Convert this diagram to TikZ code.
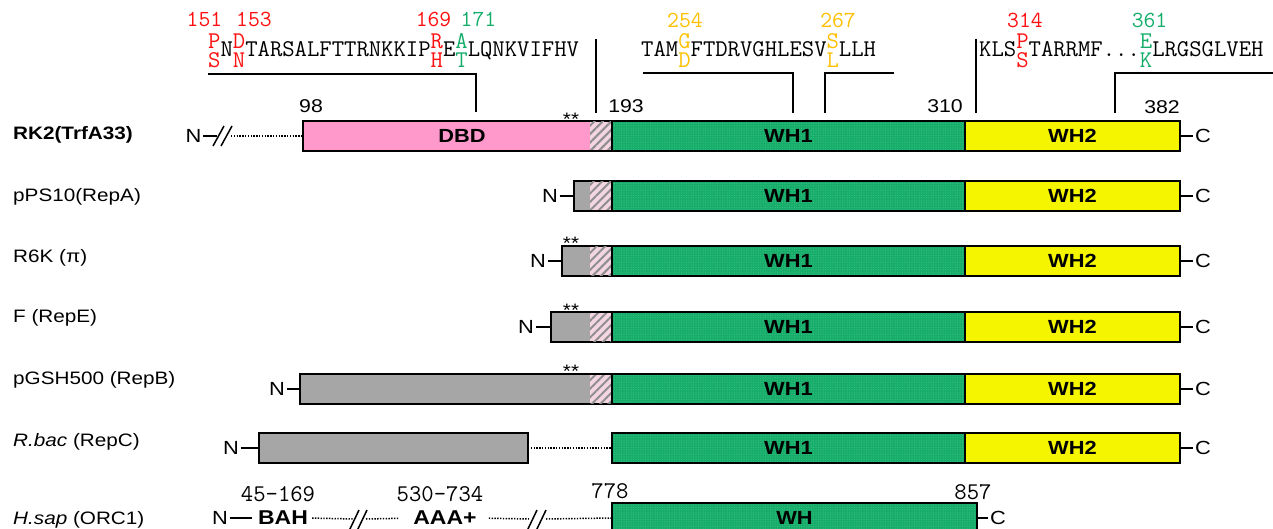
\documentclass[tikz,border=0pt]{standalone}
\usepackage{fontspec}
\setmainfont[FakeStretch=1.15]{Liberation Sans}
\usetikzlibrary{patterns.meta}

\definecolor{dbdpink}{HTML}{FF99CC}
\definecolor{whgreen}{HTML}{16AC6A}
\definecolor{whdot}{HTML}{3FC386}
\definecolor{whyellow}{HTML}{F5F500}
\definecolor{nterm}{HTML}{A6A6A6}
\definecolor{hatchpink}{HTML}{F4D6E2}
\definecolor{hatchgray}{HTML}{8E8E8E}
\definecolor{mred}{HTML}{FF1010}
\definecolor{mgreen}{HTML}{14AE6A}
\definecolor{morange}{HTML}{FFC000}

% stacked residue: wild type above, mutant below
\newcommand{\mut}[3]{\textcolor{#1}{\rlap{\raisebox{.36em}{#2}}\raisebox{-.45em}{#3}}}

\begin{document}
\begin{tikzpicture}[x=1pt, y=-1pt,
    box/.style={draw, line width=2pt, minimum height=30pt, inner sep=0pt, outer sep=0pt,
      anchor=west, font=\fontsize{19}{21}\selectfont\bfseries},
    wh1box/.style={box, preaction={fill=whgreen},
      pattern={Dots[distance=2.4pt, radius=0.55pt]}, pattern color=whdot},
    wh2box/.style={box, fill=whyellow, minimum width=215pt},
    ntbox/.style={box, fill=nterm},
    hatchbox/.style={anchor=west, inner sep=0pt, outer sep=0pt, minimum width=21pt,
      minimum height=28pt, preaction={fill=hatchpink},
      pattern={Lines[angle=45, distance=6pt, line width=2pt]}, pattern color=hatchgray},
    rowlab/.style={anchor=west, inner sep=0pt, font=\fontsize{18}{20}\selectfont},
    endlab/.style={inner sep=1.5pt, font=\fontsize{19}{21}\selectfont},
    poslab/.style={inner sep=0pt, font=\fontsize{18.5}{20}\selectfont},
    numlab/.style={inner sep=0pt, font=\ttfamily\fontsize{23}{25}\selectfont},
    seq/.style={anchor=base west, inner sep=0pt, font=\ttfamily\fontsize{24}{26}\selectfont},
    stars/.style={inner sep=0pt, font=\fontsize{18}{20}\selectfont},
    tick/.style={line width=1.6pt},
    dotline/.style={line width=1.5pt, dash pattern=on 1.4pt off 1.4pt},
    slash/.style={line width=1.5pt},
    bracket/.style={line width=1.6pt}]
  \useasboundingbox (0,0) rectangle (1273,529);

  % Sequences with mutated residues
  \node[seq] (seqA) at (208,57) {\mut{mred}{P}{S}N\mut{mred}{D}{N}TARSALFTTRNKKIP\mut{mred}{R}{H}E\mut{mgreen}{A}{T}LQNKVIFHV};
  \node[seq] (seqB) at (641,57) {TAM\mut{morange}{G}{D}FTDRVGHLESV\mut{morange}{S}{L}LLH};
  \node[seq] (seqC) at (979,57) {KLS\mut{mred}{P}{S}TARRMF...\mut{mgreen}{E}{K}LRGSGLVEH};

  \node[numlab, text=mred] (n151) at (204.5,19) {151};
  \node[numlab, text=mred] (n153) at (254,19) {153};
  \node[numlab, text=mred] (n169) at (433.5,19) {169};
  \node[numlab, text=mgreen] (n171) at (478.5,19) {171};
  \node[numlab, text=morange] (n254) at (685,20) {254};
  \node[numlab, text=morange] (n267) at (838,20) {267};
  \node[numlab, text=mred] (n314) at (1025,20) {314};
  \node[numlab, text=mgreen] (n361) at (1149.5,20) {361};

  % Brackets
  \draw[bracket] (208,74) -- (476,74) -- (476,112);
  \draw[bracket] (596,39) -- (596,113);
  \draw[bracket] (643,73) -- (793,73) -- (793,113);
  \draw[bracket] (825,113) -- (825,73) -- (894,73);
  \draw[bracket] (976,39) -- (976,113);
  \draw[bracket] (1115,113) -- (1115,73) -- (1273,73);

  % Residue numbers
  \node[poslab] (p98) at (311,106) {98};
  \node[poslab] (p193) at (626,106) {193};
  \node[poslab] (p310) at (945,106) {310};
  \node[poslab] (p382) at (1162,107) {382};

  % Row labels
  \node[rowlab] (lab1) at (13,135) {\bfseries RK2(TrfA33)};
  \node[rowlab] (lab2) at (13,197) {pPS10(RepA)};
  \node[rowlab] (lab3) at (13,258) {R6K (\symbol{"03C0})};
  \node[rowlab] (lab4) at (13,318) {F (RepE)};
  \node[rowlab] (lab5) at (13,380) {pGSH500 (RepB)};
  \node[rowlab] (lab6) at (13,442) {\itshape R.bac\upshape{} (RepC)};
  \node[rowlab] (lab7) at (13,520) {\itshape H.sap\upshape{} (ORC1)};

  % N-terminal parts
  \node[box, fill=dbdpink, minimum width=309pt] (dbd) at (303,136) {\hspace*{9pt}DBD};
  \node[ntbox, minimum width=38pt] (nt2) at (574,196) {};
  \node[ntbox, minimum width=50pt] (nt3) at (562,261) {};
  \node[ntbox, minimum width=61pt] (nt4) at (551,327) {};
  \node[ntbox, minimum width=312pt] (nt5) at (300,389) {};
  \node[ntbox, minimum width=269pt] (nt6) at (259,448) {};
  \foreach \r/\y in {a/136, b/196, c/261, d/327, e/389}
    \node[hatchbox] (hatch\r) at (590,\y) {};

  \node[stars] (st1) at (571,119) {**};
  \node[stars] (st3) at (571,243) {**};
  \node[stars] (st4) at (571,310) {**};
  \node[stars] (st5) at (571,371) {**};

  % WH domains and C termini
  \foreach \r/\y in {a/136, b/196, c/261, d/327, e/389, f/448} {
    \node[wh1box, minimum width=353pt] (wh1\r) at (612,\y) {WH1};
    \node[wh2box] (wh2\r) at (965,\y) {WH2};
    \node[endlab] (c\r) at (1203,\y) {C};
    \draw[tick] (wh2\r.east) -- (c\r);
  }

  % N termini
  \node[endlab] (n1) at (193.5,136) {N};
  \coordinate (s1) at (217,136);
  \coordinate (s1e) at (231,136);
  \draw[tick] (n1) -- (s1);
  \draw[slash] (213,146) -- (224,126);
  \draw[slash] (221,146) -- (232,126);
  \draw[dotline] (s1e) -- (dbd.west);

  \node[endlab] (n2) at (550,196) {N};
  \draw[tick] (n2) -- (nt2.west);
  \node[endlab] (n3) at (538,261) {N};
  \draw[tick] (n3) -- (nt3.west);
  \node[endlab] (n4) at (526,327) {N};
  \draw[tick] (n4) -- (nt4.west);
  \node[endlab] (n5) at (277,389) {N};
  \draw[tick] (n5) -- (nt5.west);
  \node[endlab] (n6) at (231,448) {N};
  \draw[tick] (n6) -- (nt6.west);
  \draw[dotline] (nt6.east) -- (wh1f.west);

  % ORC1 row
  \node[wh1box, minimum width=365pt] (wh7) at (612,518) {WH};
  \node[endlab] (c7) at (998,518) {C};
  \draw[tick] (wh7.east) -- (c7);
  \node[endlab] (n7) at (220,518) {N};
  \node[inner sep=0pt, font=\fontsize{20}{22}\selectfont\bfseries] (bah) at (283,518) {BAH};
  \node[inner sep=0pt, font=\fontsize{20}{22}\selectfont\bfseries] (aaa) at (445,518) {AAA+};
  \draw[tick, shorten >=6pt] (n7) -- (bah);
  \coordinate (g1a) at (353,519);
  \coordinate (g1b) at (366,519);
  \coordinate (g2a) at (529,519);
  \coordinate (g2b) at (546,519);
  \draw[dotline, shorten <=4pt] (bah.east) -- (g1a);
  \draw[dotline, shorten >=14pt] (g1b) -- (aaa.west);
  \draw[dotline, shorten <=12pt] (aaa.east) -- (g2a);
  \draw[dotline] (g2b) -- (wh7.west);
  \draw[slash] (349,531) -- (359,510);
  \draw[slash] (357,531) -- (367,510);
  \draw[slash] (527,531) -- (537,510);
  \draw[slash] (536,531) -- (546,510);

  \node[numlab, font=\ttfamily\fontsize{24}{26}\selectfont] (r45) at (278,494) {45-169};
  \node[numlab, font=\ttfamily\fontsize{24}{26}\selectfont] (r530) at (440,494) {530-734};
  \node[numlab, font=\ttfamily\fontsize{24}{26}\selectfont] (r778) at (610,491) {778};
  \node[numlab, font=\ttfamily\fontsize{24}{26}\selectfont] (r857) at (973,492) {857};
\end{tikzpicture}
\end{document}
